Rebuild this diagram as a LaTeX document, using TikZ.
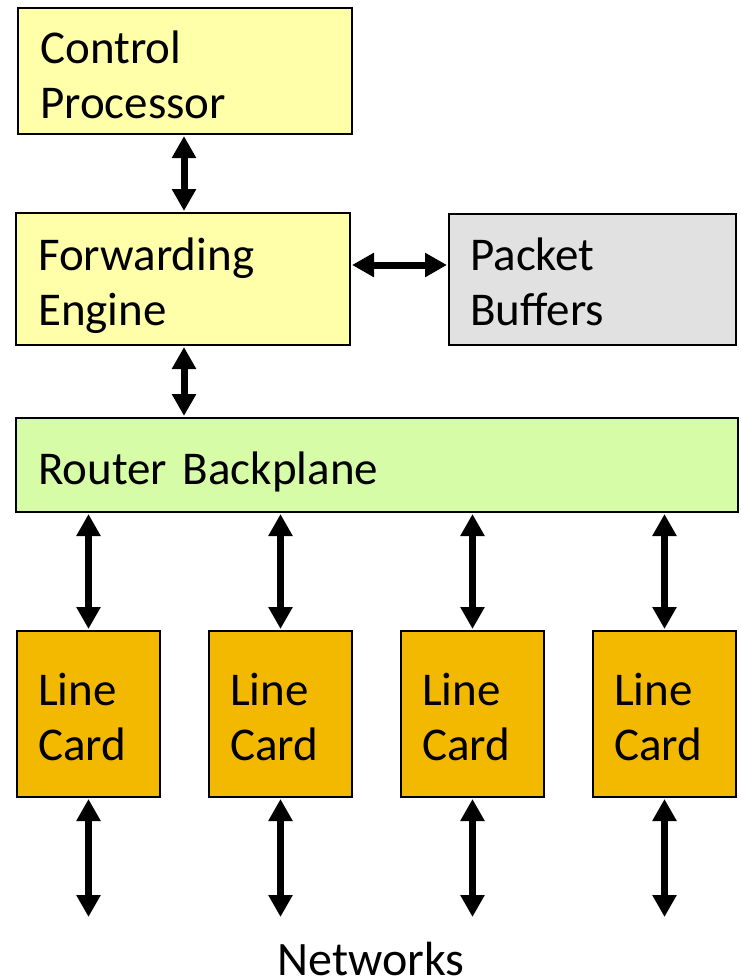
\documentclass[tikz,border=0pt]{standalone}
\usepackage{fontspec}
\setmainfont{Carlito}
\usetikzlibrary{arrows.meta}
\definecolor{paleyellow}{RGB}{255,255,170}
\definecolor{palegray}{RGB}{225,225,225}
\definecolor{palegreen}{RGB}{214,252,168}
\definecolor{cardorange}{RGB}{242,185,0}
\tikzset{
  box/.style={draw=black, line width=2pt, inner sep=0pt},
  lbl/.style={anchor=base west, inner sep=0pt, text width=300pt, align=left,
    font=\fontsize{47}{55}\selectfont},
  dbl/.style={line width=7pt, {Triangle[width=23pt,length=22pt]}-{Triangle[width=23pt,length=22pt]}}
}
\begin{document}
\begin{tikzpicture}[x=1pt,y=-1pt]
\useasboundingbox (0,0) rectangle (740,980);
% boxes
\node[box, fill=paleyellow, minimum width=334pt, minimum height=126pt] (cp) at (185,71) {};
\node[box, fill=paleyellow, minimum width=334pt, minimum height=132pt] (fe) at (183,279) {};
\node[box, fill=palegray, minimum width=287pt, minimum height=131pt] (pb) at (592.5,279.5) {};
\node[box, fill=palegreen, minimum width=722pt, minimum height=94pt] (rb) at (377,465) {};
\foreach \i/\x in {1/88.5, 2/280.5, 3/472.5, 4/664.5}{
  \node[box, fill=cardorange, minimum width=143pt, minimum height=166pt] (lc\i) at (\x,714) {};
}
% labels
\node[lbl] (cpt) at (40,63) {Control\\Processor};
\node[lbl] (fet) at (38,270) {Forwarding\\Engine};
\node[lbl] (pbt) at (470,270) {Packet\\Buffers};
\node[lbl, text width=600pt] (rbt) at (38,484) {Router Backplane};
\foreach \i/\x in {1/38, 2/230, 3/422, 4/614}{
  \node[lbl, text width=120pt] (lct\i) at (\x,705) {Line\\Card};
}
\node[anchor=base, inner sep=0pt, font=\fontsize{48}{55}\selectfont] (net) at (371,975) {Networks};
% connectors
\draw[dbl] ([xshift=-1pt,yshift=-1pt]cp.south) -- ([xshift=1pt,yshift=1pt]fe.north);
\draw[dbl] ([xshift=1pt,yshift=-1pt]fe.south) -- ([xshift=1pt,yshift=1pt]rb.north -| fe.south);
\coordinate (hy) at (0,265);
\draw[dbl] ([xshift=1pt]fe.east |- hy) -- ([xshift=-1pt]pb.west |- hy);
\foreach \i in {1,2,3,4}{
  \draw[dbl] ([yshift=-1pt]rb.south -| lc\i.north) -- ([yshift=1pt]lc\i.north);
  \coordinate (end\i) at ([yshift=-119pt]lc\i.south);
  \draw[dbl] ([yshift=-1pt]lc\i.south) -- (end\i);
}
\end{tikzpicture}
\end{document}
